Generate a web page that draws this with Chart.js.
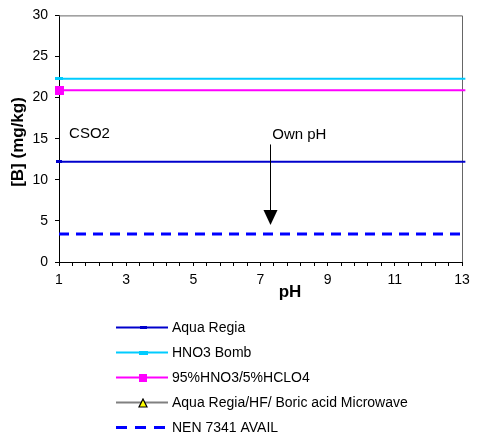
<!DOCTYPE html>
<html>
<head>
<meta charset="utf-8">
<title>[B] vs pH - CSO2</title>
<script src="https://cdn.jsdelivr.net/npm/chart.js@4.4.0/dist/chart.umd.min.js"></script>
<style>
    body { margin: 0; background: #fff; }
    #chart { display: block; }
</style>
</head>
<body>
<canvas id="chart" width="477" height="446"></canvas>
<script>
// pH values (x) - horizontal lines run across the whole range
const phValues = [1, 13.1];
const xTickLabels = [1, 3, 5, 7, 9, 11, 13];
const yTickLabels = [0, 5, 10, 15, 20, 25, 30];

// [B] (mg/kg) per method
const aquaRegia = [12.2, 12.2];
const hno3Bomb = [22.3, 22.3];
const hno3Hclo4 = [20.9, 20.9];
const aquaRegiaHf = [];
const nen7341Avail = [3.4, 3.4];

// Annotation values
const sampleName = 'CSO2';
const ownPh = 7.28;
const arrowFrom = 14.3;
const arrowTo = 4.5;

const FONT = '"Liberation Sans", Arial, sans-serif';
Chart.defaults.font.family = FONT;
Chart.defaults.color = '#000';

// Small marker images (bars, squares, triangle)
function makeRect(w, h, fill) {
    const c = document.createElement('canvas');
    c.width = w;
    c.height = h;
    const g = c.getContext('2d');
    g.fillStyle = fill;
    g.fillRect(0, 0, w, h);
    return c;
}

function makeTriangle(size, fill, stroke) {
    const c = document.createElement('canvas');
    c.width = size + 2;
    c.height = size + 2;
    const g = c.getContext('2d');
    g.beginPath();
    g.moveTo(c.width / 2, 1);
    g.lineTo(c.width - 1, c.height - 1);
    g.lineTo(1, c.height - 1);
    g.closePath();
    g.fillStyle = fill;
    g.fill();
    g.strokeStyle = stroke;
    g.lineWidth = 1.2;
    g.stroke();
    return c;
}

const toPoints = (ys) => ys.map((y, i) => ({ x: phValues[i], y: y }));

const datasets = [
    {
        label: 'Aqua Regia',
        data: toPoints(aquaRegia),
        borderColor: '#0000CC',
        borderWidth: 2,
        pointStyle: makeRect(6, 3, '#0000CC'),
        legendMarker: makeRect(7, 3, '#0000CC'),
        pointRadius: [3, 0]
    },
    {
        label: 'HNO3 Bomb',
        data: toPoints(hno3Bomb),
        borderColor: '#00CCFF',
        borderWidth: 2,
        pointStyle: makeRect(8, 3, '#00CCFF'),
        legendMarker: makeRect(9, 4, '#00CCFF'),
        pointRadius: [3, 0]
    },
    {
        label: '95%HNO3/5%HCLO4',
        data: toPoints(hno3Hclo4),
        borderColor: '#FF00FF',
        borderWidth: 2,
        pointStyle: makeRect(9, 9, '#FF00FF'),
        legendMarker: makeRect(8, 8, '#FF00FF'),
        pointRadius: [4, 0]
    },
    {
        label: 'Aqua Regia/HF/ Boric acid Microwave',
        data: toPoints(aquaRegiaHf),
        borderColor: '#808080',
        borderWidth: 2,
        pointStyle: makeTriangle(8, '#FFFF00', '#000'),
        legendMarker: makeTriangle(8, '#FFFF00', '#000'),
        pointRadius: [4, 0]
    },
    {
        label: 'NEN 7341 AVAIL',
        data: toPoints(nen7341Avail),
        borderColor: '#0000FF',
        borderWidth: 3,
        borderDash: [10, 7],
        legendDash: [11, 8],
        pointRadius: 0
    }
];

// Gray frame on top and right of the plot area
const framePlugin = {
    id: 'frame',
    beforeDatasetsDraw(chart) {
        const { ctx, chartArea: a } = chart;
        ctx.save();
        ctx.strokeStyle = '#666';
        ctx.lineWidth = 1;
        ctx.beginPath();
        ctx.moveTo(a.left, a.top + 0.5);
        ctx.lineTo(a.right + 0.5, a.top + 0.5);
        ctx.lineTo(a.right + 0.5, a.bottom);
        ctx.stroke();
        ctx.restore();
    }
};

// Text labels, arrow and axis titles
const annotationPlugin = {
    id: 'annotations',
    afterDatasetsDraw(chart) {
        const { ctx } = chart;
        const xs = chart.scales.x;
        const ys = chart.scales.y;
        ctx.save();
        ctx.fillStyle = '#000';
        ctx.font = '15px ' + FONT;
        ctx.textBaseline = 'middle';
        ctx.textAlign = 'left';
        ctx.fillText(sampleName, xs.getPixelForValue(1.3), ys.getPixelForValue(15.6));
        ctx.fillText('Own pH', xs.getPixelForValue(7.35), ys.getPixelForValue(15.5));

        // arrow
        const ax = Math.round(xs.getPixelForValue(ownPh)) + 0.5;
        const y0 = ys.getPixelForValue(arrowFrom);
        const y1 = ys.getPixelForValue(arrowTo);
        ctx.strokeStyle = '#000';
        ctx.lineWidth = 1;
        ctx.beginPath();
        ctx.moveTo(ax, y0);
        ctx.lineTo(ax, y1 - 10);
        ctx.stroke();
        ctx.beginPath();
        ctx.moveTo(ax - 7, y1 - 15);
        ctx.lineTo(ax + 7, y1 - 15);
        ctx.lineTo(ax, y1);
        ctx.closePath();
        ctx.fill();

        // axis titles
        ctx.font = 'bold 17px ' + FONT;
        ctx.textAlign = 'center';
        ctx.fillText('pH', 290, 292);
        ctx.translate(18, 142);
        ctx.rotate(-Math.PI / 2);
        ctx.fillText('[B] (mg/kg)', 0, 0);
        ctx.restore();
    }
};

// Legend below the chart
const legendPlugin = {
    id: 'customLegend',
    afterDraw(chart) {
        const { ctx } = chart;
        const x0 = 116, x1 = 168, textX = 172, top = 327, rowGap = 25;
        ctx.save();
        chart.data.datasets.forEach((ds, i) => {
            const y = top + i * rowGap;
            ctx.strokeStyle = ds.borderColor;
            ctx.lineWidth = ds.borderWidth;
            ctx.setLineDash(ds.legendDash || []);
            ctx.beginPath();
            ctx.moveTo(x0, y + 0.5);
            ctx.lineTo(x1, y + 0.5);
            ctx.stroke();
            ctx.setLineDash([]);
            if (ds.legendMarker) {
                const m = ds.legendMarker;
                ctx.drawImage(m, Math.round(143 - m.width / 2), Math.round(y + 0.5 - m.height / 2));
            }
            ctx.fillStyle = '#000';
            ctx.font = '14px ' + FONT;
            ctx.textBaseline = 'middle';
            ctx.textAlign = 'left';
            ctx.fillText(ds.label, textX, y + 1);
        });
        ctx.restore();
    }
};

function init() {
    const ctx = document.getElementById('chart').getContext('2d');
    new Chart(ctx, {
        type: 'line',
        data: { datasets: datasets },
        options: {
            responsive: false,
            animation: false,
            clip: 6,
            layout: {
                padding: { top: 10, right: 15, bottom: 141, left: 0 }
            },
            plugins: {
                legend: { display: false },
                tooltip: { enabled: false }
            },
            elements: {
                line: { tension: 0 }
            },
            scales: {
                x: {
                    type: 'linear',
                    min: 1,
                    max: 13,
                    afterFit(scale) { scale.height = 43; },
                    grid: {
                        drawOnChartArea: false,
                        drawTicks: true,
                        tickLength: 4,
                        color: '#000'
                    },
                    border: { display: true, color: '#000', width: 1 },
                    ticks: {
                        stepSize: 0.4,
                        autoSkip: false,
                        maxRotation: 0,
                        padding: 6,
                        font: { size: 14 },
                        callback: (v) => {
                            const r = Math.round(v * 100) / 100;
                            return xTickLabels.includes(r) ? String(r) : '';
                        }
                    }
                },
                y: {
                    min: 0,
                    max: 30,
                    afterFit(scale) { scale.width = 59; },
                    grid: {
                        drawOnChartArea: false,
                        drawTicks: true,
                        tickLength: 4,
                        color: '#000'
                    },
                    border: { display: true, color: '#000', width: 1 },
                    ticks: {
                        stepSize: 5,
                        padding: 7,
                        font: { size: 14 },
                        callback: (v) => yTickLabels.includes(v) ? String(v) : ''
                    }
                }
            }
        },
        plugins: [framePlugin, annotationPlugin, legendPlugin]
    });
}

document.addEventListener('DOMContentLoaded', init);
</script>
</body>
</html>
